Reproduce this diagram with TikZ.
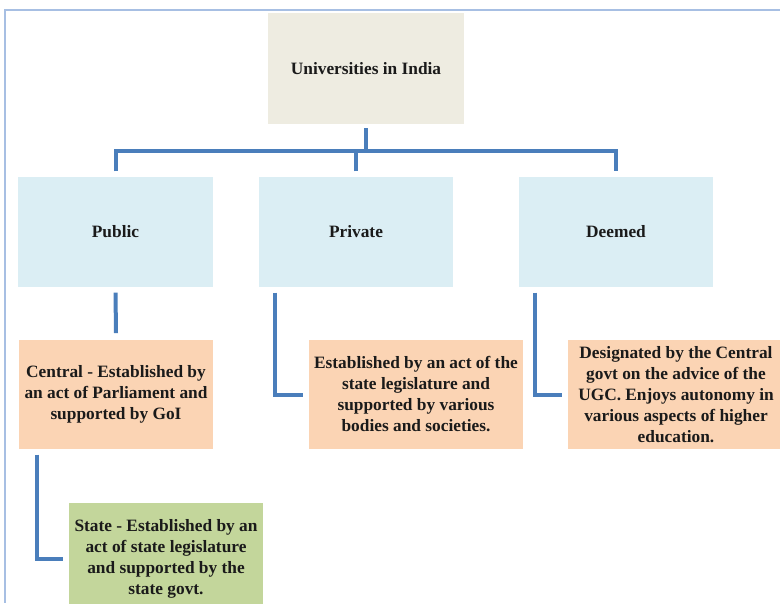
\documentclass[tikz,border=0pt]{standalone}
\usepackage{fontspec}
\setmainfont{Liberation Serif}
\definecolor{beigebox}{HTML}{EEECE1}
\definecolor{bluebox}{HTML}{DBEEF4}
\definecolor{orangebox}{HTML}{FBD4B4}
\definecolor{greenbox}{HTML}{C3D69B}
\definecolor{linkblue}{HTML}{4A7EBB}
\definecolor{framecol}{HTML}{A7BFE3}
\definecolor{txt}{HTML}{1A1A1A}
\begin{document}
\begin{tikzpicture}[x=0.75pt,y=-0.75pt,
  box/.style={draw=none,inner sep=2pt,align=center,text=txt,
    font=\bfseries\fontsize{13pt}{15.75pt}\selectfont},
  topbox/.style={box,fill=beigebox,minimum width=147pt,minimum height=83pt},
  catbox/.style={box,fill=bluebox,minimum width=146pt,minimum height=82.5pt},
  descbox/.style={box,fill=orangebox,minimum height=81.75pt},
  statebox/.style={box,fill=greenbox,minimum width=145.5pt,minimum height=84pt},
  conn/.style={draw=linkblue,line width=3pt,line join=miter,line cap=butt},
  framestyle/.style={draw=framecol,line width=1.2pt}]
\useasboundingbox (0,0) rectangle (780,603);
\fill[white] (0,0) rectangle (780,603);
\draw[framestyle] (780,10) -- (5,10) -- (5,603);

\node[topbox] (top) at (366,68.5) {Universities in India};
\node[catbox] (public) at (115.5,232) {Public};
\node[catbox] (private) at (356,232) {Private};
\node[catbox] (deemed) at (616,232) {Deemed};
\node[descbox,minimum width=145.5pt] (central) at (116,394.5)
  {Central - Established by\\an act of Parliament and\\supported by GoI};
\node[statebox] (state) at (166,559)
  {State - Established by an\\act of state legislature\\and supported by the\\state govt.};
\node[descbox,minimum width=160.5pt] (privtext) at (416,394.5)
  {Established by an act of the\\state legislature and\\supported by various\\bodies and societies.};
\node[descbox,minimum width=162pt] (deemtext) at (676,394.5)
  {Designated by the Central\\govt on the advice of the\\UGC. Enjoys autonomy in\\various aspects of higher\\education.};

\draw[conn] ([yshift=-3pt]top.south) -- ++(0,23) coordinate (hub);
\draw[conn] ([yshift=4pt]public.north) -- (public.north |- hub) -| ([yshift=4pt]deemed.north);
\draw[conn] ([yshift=4pt]private.north) -- (private.north |- hub);
\draw[conn] ([yshift=-4pt]public.south) -- ([yshift=5pt]central.north);
\draw[conn] ([xshift=13.5pt,yshift=-4pt]central.south west) |- ([xshift=-4pt]state.west);
\draw[conn] ([xshift=12.75pt,yshift=-4pt]private.south west) |- ([xshift=-4pt]privtext.west);
\draw[conn] ([xshift=12.75pt,yshift=-4pt]deemed.south west) |- ([xshift=-4pt]deemtext.west);
\end{tikzpicture}
\end{document}
